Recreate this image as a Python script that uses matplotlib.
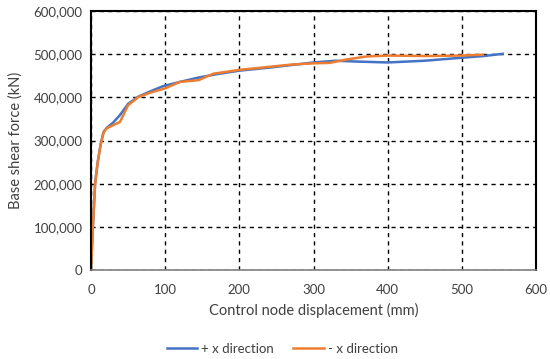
import matplotlib.pyplot as plt
from matplotlib.ticker import FuncFormatter

# + x direction
disp_pos = [0, 2.5, 5.5, 9, 13, 17, 21, 30, 39, 50, 64, 80, 97, 120, 145, 170, 200,
            240, 270, 300, 330, 360, 400, 450, 500, 530, 555]
shear_pos = [0, 100000, 200000, 250000, 292000, 320000, 329000, 342000, 359000, 385000,
             402000, 414000, 426000, 436000, 446000, 454000, 462000, 469000, 475000,
             481000, 485000, 483000, 481000, 485000, 492000, 496000, 501000]

# - x direction
disp_neg = [0, 2.5, 5.5, 9, 13, 17, 21, 35, 39, 50, 64, 80, 100, 120, 145, 165, 201,
            241, 270, 300, 322, 345, 372, 400, 450, 500, 528]
shear_neg = [0, 100000, 200000, 250000, 290000, 320000, 328000, 340000, 343000, 382000,
             401000, 411000, 421000, 436000, 440000, 455000, 464000, 471000, 476000,
             479000, 480000, 488000, 495000, 497000, 496000, 497000, 499000]

plt.rcParams['font.family'] = ['Lato', 'DejaVu Sans']

fig = plt.figure(figsize=(5.5, 3.59), dpi=100)
ax = fig.add_axes([0.1655, 0.248, 0.809, 0.721])

ax.plot(disp_pos, shear_pos, color='#4472C4', lw=1.8, label='+ x direction')
ax.plot(disp_neg, shear_neg, color='#ED7D31', lw=1.8, label='- x direction')

ax.set_xlim(0, 600)
ax.set_ylim(0, 600000)
ax.set_xticks(range(0, 601, 100))
ax.set_yticks(range(0, 600001, 100000))
ax.yaxis.set_major_formatter(FuncFormatter(lambda v, p: f'{int(v):,}'))
ax.tick_params(length=0, labelsize=9.5, colors='#404040')
ax.tick_params(axis='x', pad=10)
ax.tick_params(axis='y', pad=6)
ax.grid(True, color='black', linestyle=(0, (3, 3)), linewidth=1)

for s in ['top', 'left', 'right']:
    ax.spines[s].set_color('black')
    ax.spines[s].set_linewidth(1.5)
ax.spines['bottom'].set_color('#808080')
ax.spines['bottom'].set_linewidth(1.2)

ax.set_xlabel('Control node displacement (mm)', fontsize=10.5, color='#404040', labelpad=5)
ax.set_ylabel('Base shear force (kN)', fontsize=10.5, color='#404040', labelpad=8)

fig.legend(loc='center', bbox_to_anchor=(0.513, 0.028), ncol=2, frameon=False,
           fontsize=9.5, handlelength=2.3, handletextpad=0.3, columnspacing=1.5,
           labelcolor='#404040')

fig.savefig('out.png', dpi=100)
